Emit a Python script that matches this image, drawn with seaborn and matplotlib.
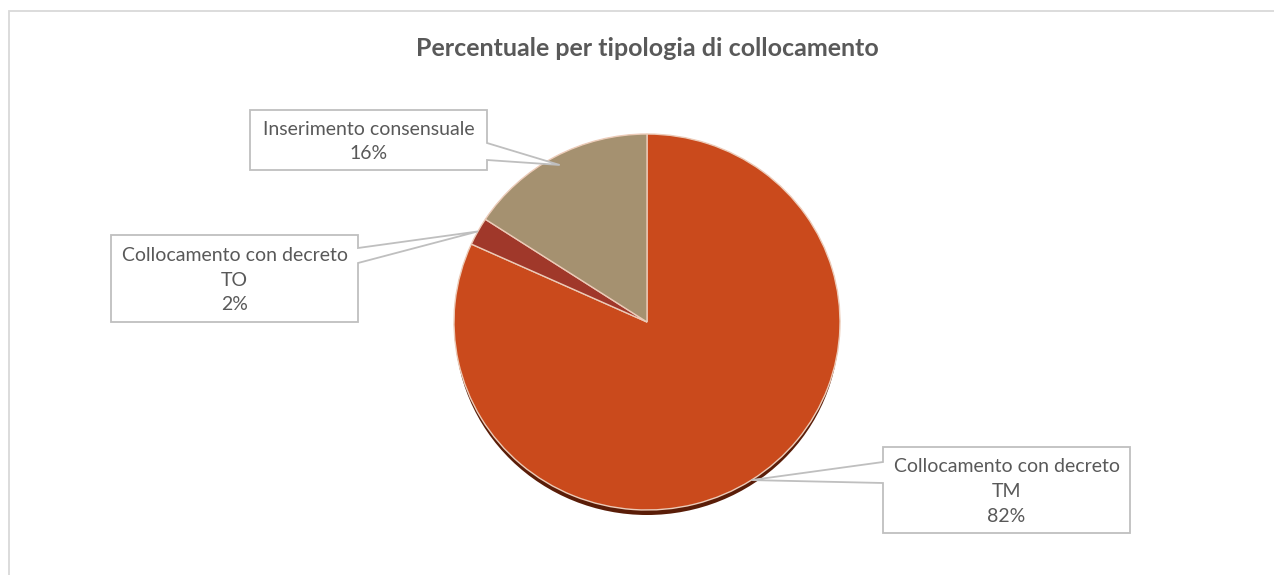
import numpy as np
import matplotlib
matplotlib.use("Agg")
import matplotlib.pyplot as plt
from matplotlib.patches import Polygon, Rectangle, Circle
import seaborn as sns

# ---- data ----
categories = ["Collocamento con decreto\nTM", "Collocamento con decreto\nTO", "Inserimento consensuale"]
values = [81.8, 2.4, 15.8]
colors = ["#CA4A1C", "#A0382A", "#A59170"]
title = "Percentuale per tipologia di collocamento"

sns.set_theme(style="white")
plt.rcParams["font.family"] = ["Lato", "DejaVu Sans"]

W, H = 1274, 575
fig = plt.figure(figsize=(W / 100, H / 100), dpi=100)
ax = fig.add_axes([0, 0, 1, 1])
YS = 0.974  # vertical squash of the pie (px per data unit in y)


def Y(ypix):
    return (H - ypix) / YS


cx, cy_pix, R = 647, 322, 193
center = (cx, Y(cy_pix))

# shadow
ax.add_patch(Circle((cx, Y(cy_pix + 6)), R - 1, facecolor="#5a1d08", edgecolor="none", zorder=1))

wedges, _ = ax.pie(values, colors=colors, startangle=90, counterclock=False,
                   radius=R, center=center,
                   wedgeprops=dict(edgecolor="#eccbb8", linewidth=1.0, zorder=2))
for w in wedges:
    w.set_zorder(2)

ax.set_xlim(0, W)
ax.set_ylim(0, H / YS)
ax.set_aspect("auto")
ax.axis("off")

# callout layout: box (x0, x1, y0, y1) in px, pointer side, pointer y-range, anchor radius fraction
boxes = [
    (883, 1130, 447, 533, "left", (462, 483), 1.0),
    (111, 358, 235, 322, "right", (248, 263), 1.0),
    (250, 487, 110, 170, "right", (143, 160), 0.95),
]

tcol = "#595959"
lcol = "#BFBFBF"
for w, val, lab, (x0, x1, y0, y1, side, (ya, yb), rf) in zip(wedges, values, categories, boxes):
    mid = np.deg2rad((w.theta1 + w.theta2) / 2)
    px = cx + rf * R * np.cos(mid)
    py = center[1] + rf * R * np.sin(mid)
    if side == "right":
        verts = [(x0, Y(y0)), (x1, Y(y0)), (x1, Y(ya)), (px, py), (x1, Y(yb)), (x1, Y(y1)), (x0, Y(y1))]
    else:
        verts = [(x0, Y(y0)), (x1, Y(y0)), (x1, Y(y1)), (x0, Y(y1)), (x0, Y(yb)), (px, py), (x0, Y(ya))]
    ax.add_patch(Polygon(verts, closed=True, facecolor="white", edgecolor=lcol,
                         linewidth=1.3, zorder=5))
    txt = f"{lab}\n{round(val):d}%"
    ax.text((x0 + x1) / 2, Y((y0 + y1) / 2 + 1.5), txt, ha="center", va="center",
            fontsize=14, color=tcol, linespacing=1.55, zorder=6)

fig.text(647 / W, 1 - 48 / H, title, ha="center", va="center", fontsize=18,
         fontweight="bold", color=tcol)

# chart-area border
fig.patches.append(Rectangle((9 / W, -0.1), 2, 1 - 11 / H + 0.1, transform=fig.transFigure,
                             fill=False, edgecolor="#D9D9D9", linewidth=1.3))

fig.savefig("out.png", dpi=100, facecolor="white")
